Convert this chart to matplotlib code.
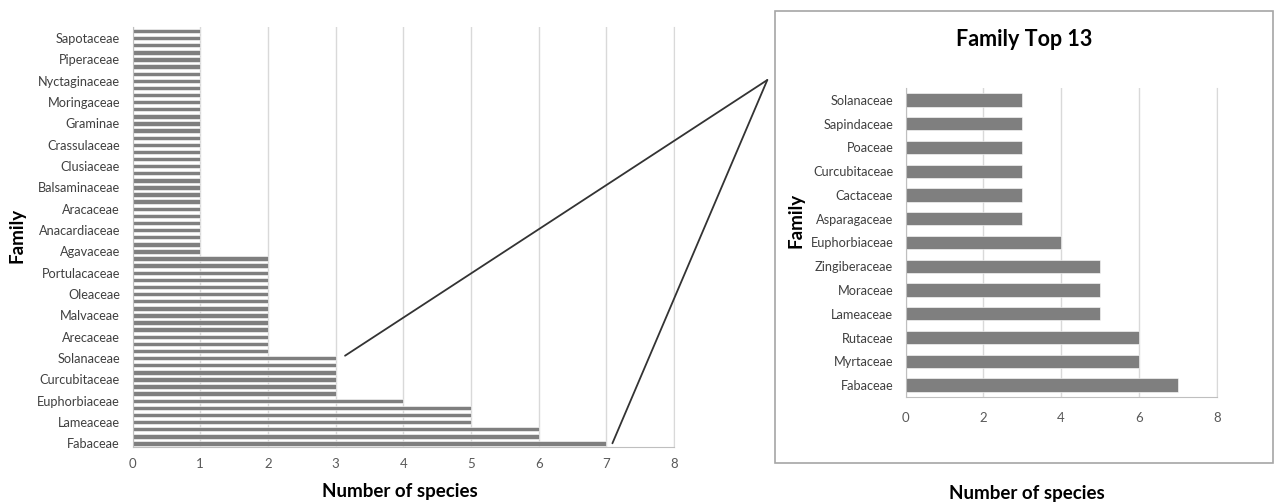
import matplotlib
matplotlib.use("Agg")
import matplotlib.pyplot as plt
from matplotlib.patches import Rectangle, ConnectionPatch

plt.rcParams['font.family'] = ['Lato', 'DejaVu Sans']

# ---- Data: all families (bottom -> top), only every 3rd label is shown in the chart
all_families = [
    "Fabaceae", "Myrtaceae", "Rutaceae", "Lameaceae", "Moraceae", "Zingiberaceae",
    "Euphorbiaceae", "Asparagaceae", "Cactaceae", "Curcubitaceae", "Poaceae", "Sapindaceae",
    "Solanaceae", "", "", "Arecaceae", "", "", "Malvaceae", "", "", "Oleaceae", "", "",
    "Portulacaceae", "", "", "Agavaceae", "", "", "Anacardiaceae", "", "", "Aracaceae", "", "",
    "Balsaminaceae", "", "", "Clusiaceae", "", "", "Crassulaceae", "", "", "Graminae", "", "",
    "Moringaceae", "", "", "Nyctaginaceae", "", "", "Piperaceae", "", "", "Sapotaceae", "",
]
all_values = [
    7, 6, 6, 5, 5, 5, 4, 3, 3, 3, 3, 3, 3,
    2, 2, 2, 2, 2, 2, 2, 2, 2, 2, 2, 2, 2, 2,
    1, 1, 1, 1, 1, 1, 1, 1, 1, 1, 1, 1, 1, 1, 1, 1,
    1, 1, 1, 1, 1, 1, 1, 1, 1, 1, 1, 1, 1, 1, 1, 1,
]
label_step = 3

top_families = ["Fabaceae", "Myrtaceae", "Rutaceae", "Lameaceae", "Moraceae", "Zingiberaceae",
                "Euphorbiaceae", "Asparagaceae", "Cactaceae", "Curcubitaceae", "Poaceae",
                "Sapindaceae", "Solanaceae"]
top_values = [7, 6, 6, 5, 5, 5, 4, 3, 3, 3, 3, 3, 3]

left_xticks = [0, 1, 2, 3, 4, 5, 6, 7, 8]
right_xticks = [0, 2, 4, 6, 8]

W, H = 1274, 504
fig = plt.figure(figsize=(W / 100, H / 100), dpi=100)

BAR = '#7f7f7f'
GRID = '#d9d9d9'
AXC = '#bfbfbf'
TICKC = '#595959'
LABC = '#404040'
CAT_FS = 9.2
TICK_FS = 9.5
TITLE_FS = 13.5


def px_axes(x0, y0, x1, y1):
    return fig.add_axes([x0 / W, 1 - y1 / H, (x1 - x0) / W, (y1 - y0) / H])


def style(ax, xticks, xpad, ypad):
    ax.set_xlim(xticks[0], xticks[-1])
    ax.set_xticks(xticks)
    ax.grid(axis='x', color=GRID, lw=1)
    ax.set_axisbelow(True)
    ax.spines['top'].set_visible(False)
    ax.spines['right'].set_color(GRID)
    ax.spines['left'].set_color(AXC)
    ax.spines['bottom'].set_color(AXC)
    ax.tick_params(axis='both', length=0)
    ax.tick_params(axis='x', pad=xpad, labelsize=TICK_FS, labelcolor=TICKC)
    ax.tick_params(axis='y', pad=ypad, labelsize=CAT_FS, labelcolor=LABC)


# ---- Left chart
axL = px_axes(132.5, 27.5, 674, 447)
posL = list(range(len(all_values)))
axL.barh(posL, all_values, height=0.62, color=BAR, edgecolor='white', linewidth=0.4)
axL.set_ylim(-0.5, len(all_values) - 0.5)
style(axL, left_xticks, 8, 9)
lab_pos = posL[::label_step]
axL.set_yticks(lab_pos)
axL.set_yticklabels([all_families[i] for i in lab_pos])
fig.text(17 / W, 1 - 235 / H, "Family", rotation=90, ha='center', va='center',
         fontsize=TITLE_FS, fontweight='bold', color='black')
fig.text(400 / W, 1 - 491 / H, "Number of species", ha='center', va='center',
         fontsize=TITLE_FS, fontweight='bold', color='black')

# ---- Right inset box
fig.patches.append(Rectangle((775 / W, 1 - 463 / H), (1273 - 775) / W, (463 - 11) / H,
                             transform=fig.transFigure, facecolor='none',
                             edgecolor='#a6a6a6', lw=1.2))

axR = px_axes(905.7, 88, 1216.7, 397)
posR = list(range(len(top_values)))
axR.barh(posR, top_values, height=0.56, color=BAR, edgecolor='white', linewidth=0.4)
axR.set_ylim(-0.5, len(top_values) - 0.5)
axR.set_yticks(posR)
axR.set_yticklabels(top_families)
style(axR, right_xticks, 11, 9)
fig.text(1024 / W, 1 - 39 / H, "Family Top 13", ha='center', va='center',
         fontsize=15.5, fontweight='bold', color='black')
fig.text(796 / W, 1 - 220 / H, "Family", rotation=90, ha='center', va='center',
         fontsize=TITLE_FS, fontweight='bold', color='black')
fig.text(1027 / W, 1 - 493 / H, "Number of species", ha='center', va='center',
         fontsize=TITLE_FS, fontweight='bold', color='black')

# ---- Zoom connector lines (from left chart bars to the inset)
apex = (767.3 / W, 1 - 80 / H)
for xy in [(3.14, 12.34), (7.09, 0.02)]:
    con = ConnectionPatch(xyA=xy, coordsA=axL.transData, xyB=apex, coordsB=fig.transFigure,
                          color='#333333', lw=1.3)
    fig.add_artist(con)

fig.savefig("out.png", dpi=100)
